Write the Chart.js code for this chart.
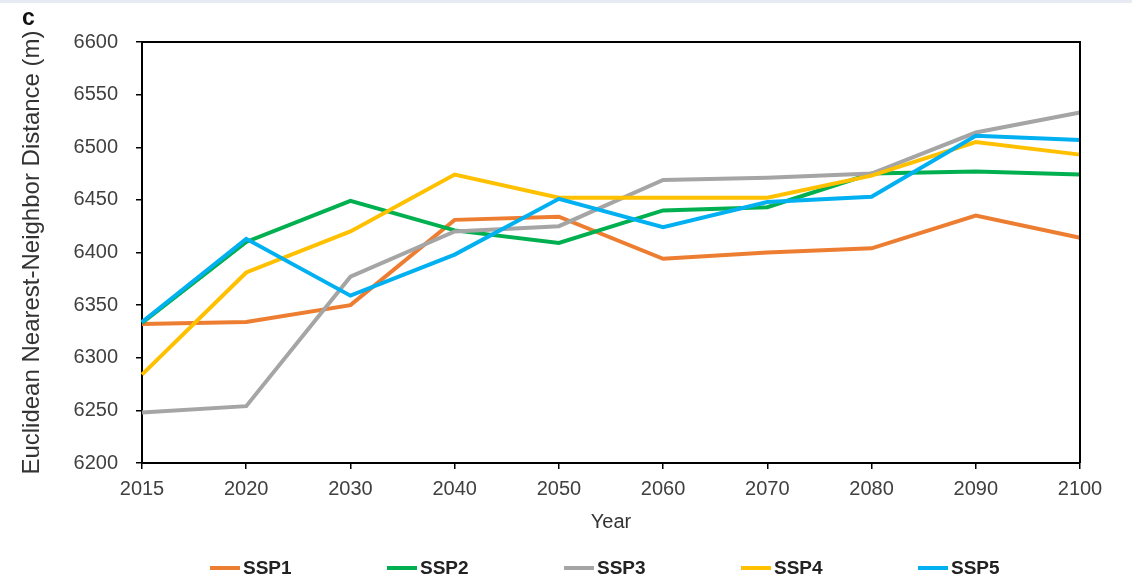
<!DOCTYPE html>
<html>
<head>
<meta charset="utf-8">
<script src="https://cdn.jsdelivr.net/npm/chart.js@4/dist/chart.umd.min.js"></script>
<style>
  html, body { margin: 0; padding: 0; background: #fff; }
  body { width: 1132px; height: 578px; overflow: hidden; }
  #wrap { position: relative; width: 1132px; height: 578px; }
  #band { position: absolute; left: 0; top: 0; width: 1132px; height: 3px; background: #e6ebf4; }
  canvas { display: block; }
</style>
</head>
<body>
<div id="wrap">
  <canvas id="chart" width="1132" height="578"></canvas>
  <div id="band"></div>
</div>
<script>
// Years on the horizontal axis
const years = ['2015', '2020', '2030', '2040', '2050', '2060', '2070', '2080', '2090', '2100'];

// Euclidean nearest-neighbour distance (m) per scenario
const ssp1 = [6332, 6334, 6350, 6431, 6434, 6394, 6400, 6404, 6435, 6414];
const ssp2 = [6333, 6410, 6449, 6421, 6409, 6440, 6443, 6475, 6477, 6474];
const ssp3 = [6248, 6254, 6377, 6420, 6425, 6469, 6471, 6475, 6514, 6533];
const ssp4 = [6284, 6381, 6420, 6474, 6452, 6452, 6452, 6473, 6505, 6493];
const ssp5 = [6334, 6413, 6359, 6398, 6451, 6424, 6448, 6453, 6511, 6507];

const seriesNames = ['SSP1', 'SSP2', 'SSP3', 'SSP4', 'SSP5'];
const seriesValues = [ssp1, ssp2, ssp3, ssp4, ssp5];
const seriesColors = ['#ED7D31', '#00B050', '#A5A5A5', '#FFC000', '#00B0F0'];

const FONT = "'Liberation Sans', Arial, Helvetica, sans-serif";
const TEXT = '#404040';

// Panel letter, closing frame on top/right of the plot area, and a
// widely spaced legend row under the x-axis title
const panelDecor = {
  id: 'panelDecor',
  afterDraw(chart) {
    const { ctx, chartArea: a } = chart;
    ctx.save();
    ctx.strokeStyle = '#000';
    ctx.lineWidth = 2;
    ctx.beginPath();
    ctx.moveTo(a.left, a.top);
    ctx.lineTo(a.right, a.top);
    ctx.lineTo(a.right, a.bottom);
    ctx.stroke();

    ctx.fillStyle = '#111';
    ctx.font = "bold 23px " + FONT;
    ctx.textBaseline = 'alphabetic';
    ctx.textAlign = 'left';
    ctx.fillText('c', 22, 25);

    // legend
    const y = 568;
    const step = 177;
    const x0 = 210;
    ctx.font = "bold 19px " + FONT;
    ctx.textBaseline = 'middle';
    chart.data.datasets.forEach((ds, i) => {
      const x = x0 + i * step;
      ctx.strokeStyle = ds.borderColor;
      ctx.lineWidth = 4;
      ctx.beginPath();
      ctx.moveTo(x, y);
      ctx.lineTo(x + 30, y);
      ctx.stroke();
      ctx.fillStyle = '#222';
      ctx.fillText(ds.label, x + 33, y + 1);
    });
    ctx.restore();
  }
};

const datasets = seriesNames.map((name, i) => ({
  label: name,
  data: seriesValues[i],
  borderColor: seriesColors[i],
  backgroundColor: seriesColors[i],
  borderWidth: 4,
  pointRadius: 0,
  pointHoverRadius: 0,
  tension: 0,
  fill: false,
  order: seriesNames.length - 1 - i
}));

new Chart(document.getElementById('chart'), {
  type: 'line',
  data: { labels: years, datasets },
  plugins: [panelDecor],
  options: {
    responsive: false,
    animation: false,
    events: [],
    layout: { padding: { top: 42, right: 52, bottom: 26, left: 0 } },
    plugins: {
      tooltip: { enabled: false },
      legend: { display: false }
    },
    scales: {
      x: {
        type: 'category',
        offset: false,
        afterFit(scale) { scale.height = 89; },
        grid: {
          offset: false,
          drawOnChartArea: false,
          drawTicks: true,
          tickLength: 6,
          color: '#000',
          lineWidth: 1.5
        },
        border: { display: true, color: '#000', width: 2 },
        ticks: {
          color: TEXT,
          padding: 8,
          maxRotation: 0,
          autoSkip: false,
          font: { family: FONT, size: 20 }
        },
        title: {
          display: true,
          text: 'Year',
          color: '#333',
          padding: { top: 0, bottom: 18 },
          font: { family: FONT, size: 20 }
        }
      },
      y: {
        min: 6200,
        max: 6600,
        afterFit(scale) { scale.width = 142; },
        grid: {
          drawOnChartArea: false,
          drawTicks: true,
          tickLength: 6,
          color: '#000',
          lineWidth: 1.5
        },
        border: { display: true, color: '#000', width: 2 },
        ticks: {
          stepSize: 50,
          color: TEXT,
          padding: 18,
          font: { family: FONT, size: 20 },
          callback: (v) => String(v)
        },
        title: {
          display: true,
          text: 'Euclidean Nearest-Neighbor Distance (m)',
          color: '#333',
          padding: { top: 18, bottom: 0 },
          font: { family: FONT, size: 24 }
        }
      }
    }
  }
});
</script>
</body>
</html>
